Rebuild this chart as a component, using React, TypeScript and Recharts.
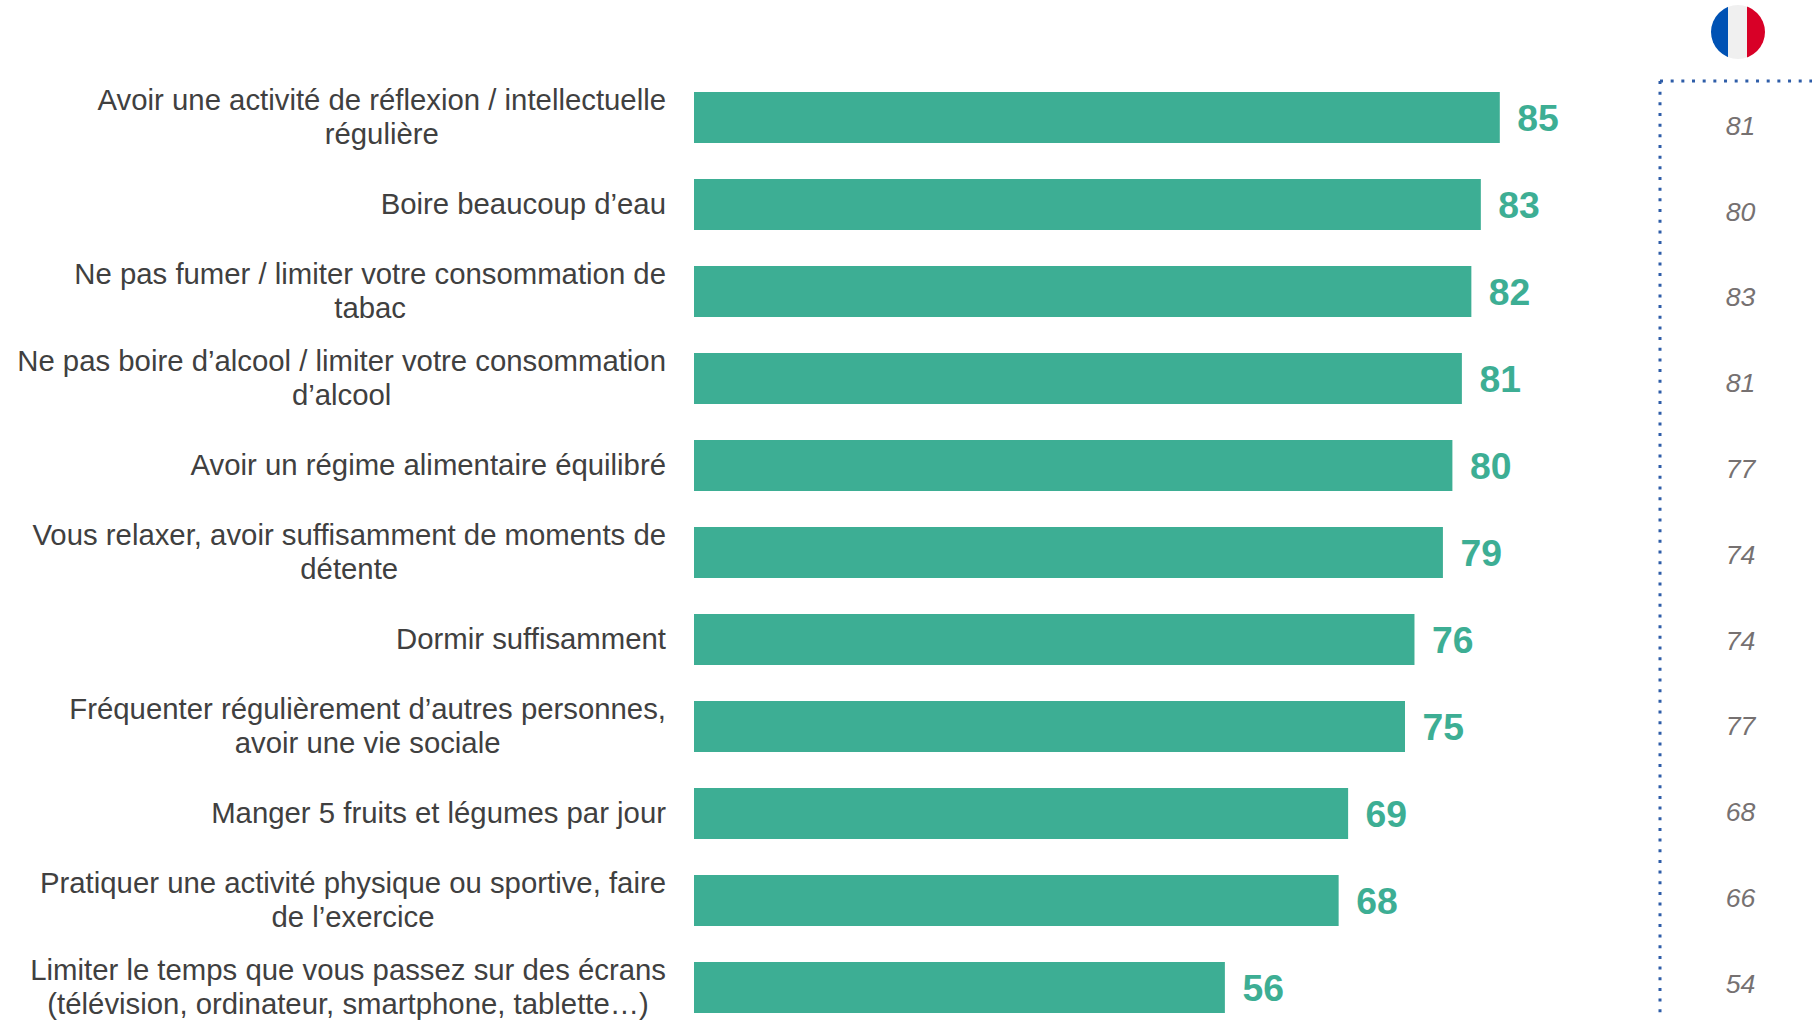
import { BarChart, Bar, XAxis, YAxis, LabelList } from 'recharts';

const categories = [
  'Avoir une activité de réflexion / intellectuelle\nrégulière',
  'Boire beaucoup d’eau',
  'Ne pas fumer / limiter votre consommation de\ntabac',
  'Ne pas boire d’alcool / limiter votre consommation\nd’alcool',
  'Avoir un régime alimentaire équilibré',
  'Vous relaxer, avoir suffisamment de moments de\ndétente',
  'Dormir suffisamment',
  'Fréquenter régulièrement d’autres personnes,\navoir une vie sociale',
  'Manger 5 fruits et légumes par jour',
  'Pratiquer une activité physique ou sportive, faire\nde l’exercice',
  'Limiter le temps que vous passez sur des écrans\n(télévision, ordinateur, smartphone, tablette…)',
];
const values = [85, 83, 82, 81, 80, 79, 76, 75, 69, 68, 56];
const franceValues = [81, 80, 83, 81, 77, 74, 74, 77, 68, 66, 54];

const chartData = categories.map((name, i) => ({ name, value: values[i], france: franceValues[i] }));

const FONT = '"Liberation Sans", Arial, sans-serif';
const TEAL = '#3DAE94';
const LABEL_SIZE = 29.33;
const LINE_HEIGHT = 34;

const ctx = document.createElement('canvas').getContext('2d');

function textWidth(s: string) {
  if (!ctx) return 0;
  ctx.font = `${LABEL_SIZE}px "Liberation Sans"`;
  return ctx.measureText(s).width;
}

// lines are centred on each other, the block is right aligned
function CategoryTick({ x, y, payload }: any) {
  const lines = String(payload.value).split('\n');
  const w = Math.max(...lines.map(textWidth));
  const cx = x - w / 2;
  const first = y - ((lines.length - 1) * LINE_HEIGHT) / 2 + LABEL_SIZE * 0.33;
  return (
    <text textAnchor="middle" fontFamily={FONT} fontSize={LABEL_SIZE} fill="#404040">
      {lines.map((l, i) => (
        <tspan key={i} x={cx} y={first + i * LINE_HEIGHT}>{l}</tspan>
      ))}
    </text>
  );
}

function FranceTick({ x, y, index }: any) {
  return (
    <text x={x + 0.5} y={y + 8.7} textAnchor="middle" fontFamily={FONT} fontSize={26.67} fontStyle="italic" fill="#767171">
      {franceValues[index]}
    </text>
  );
}

export default function App() {
  return (
    <div style={{ position: 'absolute', left: 0, top: 0, width: 1812, height: 1020, overflow: 'hidden', background: '#fff' }}>
      <div style={{ position: 'absolute', left: 0, top: 0 }}>
        <BarChart
          width={1812}
          height={1040}
          data={chartData}
          layout="vertical"
          margin={{ top: 73.9, right: 170, left: 0, bottom: 9.1 }}
        >
          <XAxis type="number" domain={[0, 100]} hide />
          <YAxis
            type="category"
            dataKey="name"
            width={694}
            axisLine={false}
            tickLine={false}
            tickSize={0}
            tickMargin={28}
            interval={0}
            tick={CategoryTick}
          />
          <Bar dataKey="value" fill={TEAL} barSize={51} isAnimationActive={false}>
            <LabelList
              dataKey="value"
              position="right"
              offset={17.5}
              fill={TEAL}
              fontFamily={FONT}
              fontSize={37.33}
              fontWeight="bold"
            />
          </Bar>
        </BarChart>
      </div>

      <div style={{ position: 'absolute', left: 1660, top: 0 }}>
        <BarChart
          width={152}
          height={1040}
          data={chartData}
          layout="vertical"
          margin={{ top: 83.1, right: 0, left: 0, bottom: 13.1 }}
        >
          <XAxis type="number" domain={[0, 100]} hide />
          <YAxis
            type="category"
            dataKey="name"
            width={80}
            axisLine={false}
            tickLine={false}
            tickSize={0}
            tickMargin={0}
            interval={0}
            tick={FranceTick}
          />
          <Bar dataKey="france" fill="none" isAnimationActive={false} />
        </BarChart>
      </div>

      {/* dotted frame and flag */}
      <svg width={1812} height={1020} style={{ position: 'absolute', left: 0, top: 0, pointerEvents: 'none' }}>
        <defs>
          <clipPath id="flag"><circle cx={1738} cy={32} r={27} /></clipPath>
        </defs>
        <line x1={1660} y1={81} x2={1812} y2={81} stroke="#2E5DA8" strokeWidth={3} strokeDasharray="3 7.67" />
        <line x1={1660} y1={81} x2={1660} y2={1020} stroke="#2E5DA8" strokeWidth={3} strokeDasharray="3 7.67" />
        <g clipPath="url(#flag)">
          <rect x={1711} y={5} width={17} height={54} fill="#0052B4" />
          <rect x={1728} y={5} width={19} height={54} fill="#F0F0F0" />
          <rect x={1747} y={5} width={18} height={54} fill="#D80027" />
        </g>
      </svg>
    </div>
  );
}
